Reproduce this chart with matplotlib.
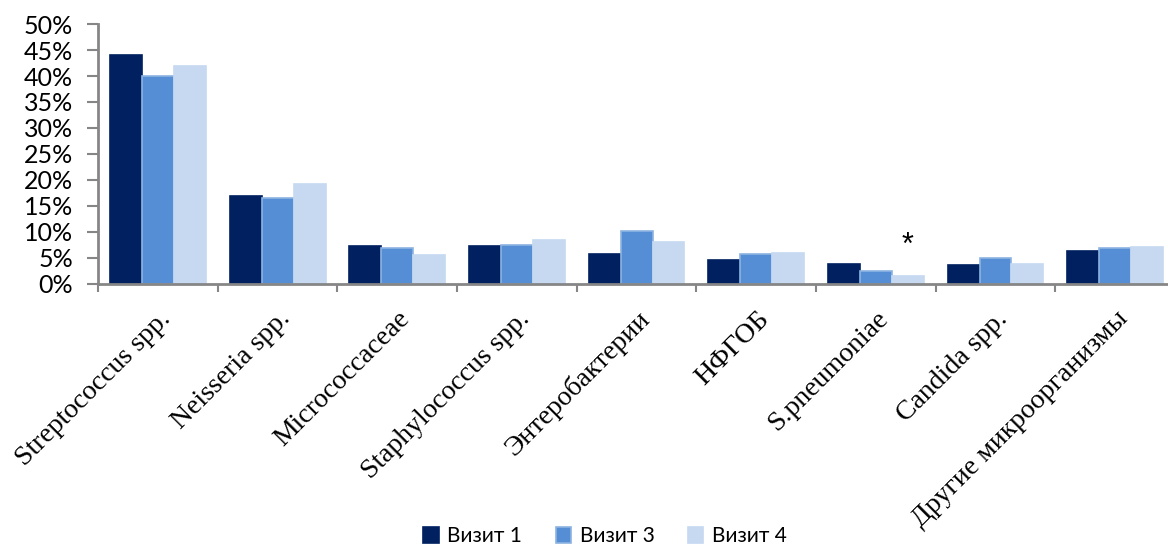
import matplotlib.pyplot as plt
import numpy as np
from matplotlib.ticker import PercentFormatter

categories = ["Streptococcus spp.", "Neisseria spp.", "Micrococcaceae",
              "Staphylococcus spp.", "Энтеробактерии", "НФГОБ",
              "S.pneumoniae", "Candida spp.", "Другие микроорганизмы"]
visit1 = [44.0, 17.0, 7.3, 7.3, 5.8, 4.6, 3.85, 3.65, 6.4]
visit3 = [40.0, 16.6, 7.0, 7.4, 10.1, 5.7, 2.4, 4.9, 6.9]
visit4 = [42.0, 19.2, 5.5, 8.5, 8.0, 6.0, 1.5, 3.85, 7.1]
series_names = ["Визит 1", "Визит 3", "Визит 4"]
colors = ["#002060", "#558ED5", "#C6D9F1"]
edge_colors = ["#002060", "#8DB3E2", "#C6D9F1"]

AXIS_GRAY = "#868686"

fig = plt.figure(figsize=(11.68, 5.46), dpi=100)
# the plot area runs a little past the right edge, as in the original
ax = fig.add_axes([0.084, 0.48, 0.922, 0.476])

x = np.arange(len(categories))
width = 0.267
for i, (vals, name) in enumerate(zip([visit1, visit3, visit4], series_names)):
    ax.bar(x + (i - 1) * width, vals, width, color=colors[i], label=name,
           edgecolor=edge_colors[i], linewidth=1.2, zorder=2)

# significance marker above S.pneumoniae, visit 4
ax.text(x[6] + width, 7.3, "*", ha="center", va="center", fontsize=22,
        family="Liberation Sans")

ax.set_xlim(-0.5, len(categories) - 0.5)
ax.set_ylim(0, 50)
ax.set_yticks(np.arange(0, 51, 5))
ax.yaxis.set_major_formatter(PercentFormatter(decimals=0))

ax.set_xticks(x)
ax.set_xticklabels(categories, rotation=45, ha="right", va="top",
                   rotation_mode="anchor", family="Liberation Serif", fontsize=20)
ax.tick_params(axis="x", length=0, pad=16)
ax.set_xticks(np.arange(-0.5, len(categories) + 0.5, 1), minor=True)
ax.tick_params(axis="x", which="minor", length=6, width=1.5, color=AXIS_GRAY)

ax.tick_params(axis="y", length=8, width=1.5, color=AXIS_GRAY, labelsize=18, pad=10)
for lbl in ax.get_yticklabels():
    lbl.set_family("Lato")

for side in ["top", "right"]:
    ax.spines[side].set_visible(False)
for side in ["left", "bottom"]:
    ax.spines[side].set_color(AXIS_GRAY)
    ax.spines[side].set_linewidth(2)

fig.legend(loc="lower center", bbox_to_anchor=(0.518, -0.035), ncol=3,
           frameon=False, prop={"family": "Lato", "size": 15},
           handlelength=0.75, handleheight=0.75, handletextpad=0.4,
           columnspacing=1.6)

fig.savefig("out.png", dpi=100, facecolor="white")
